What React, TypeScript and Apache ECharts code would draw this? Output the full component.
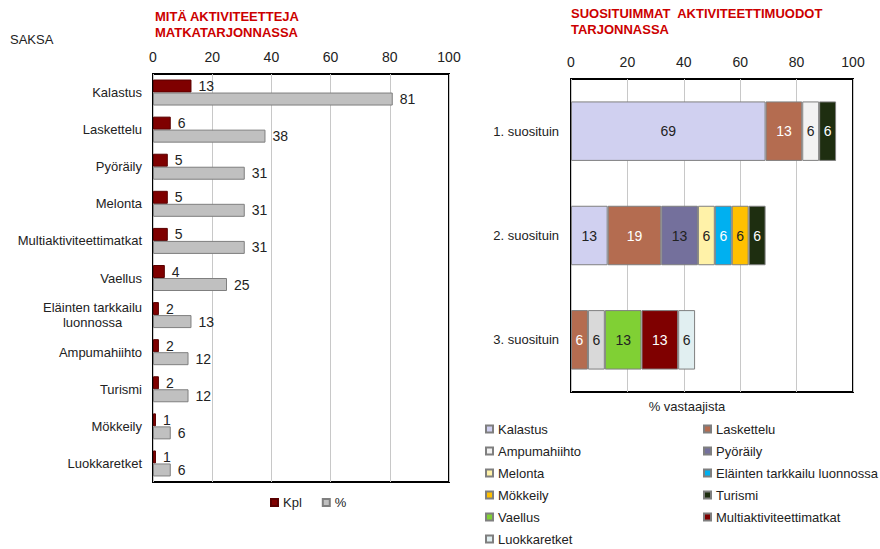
import React, { useEffect, useRef } from "react";
import * as echarts from "echarts";

const FONT = "'Liberation Sans', Arial, sans-serif";

// Left chart data
const leftCategories = [
  "Kalastus",
  "Laskettelu",
  "Pyöräily",
  "Melonta",
  "Multiaktiviteettimatkat",
  "Vaellus",
  "Eläinten tarkkailu\nluonnossa",
  "Ampumahiihto",
  "Turismi",
  "Mökkeily",
  "Luokkaretket",
];
const kplValues = [13, 6, 5, 5, 5, 4, 2, 2, 2, 1, 1];
const pctValues = [81, 38, 31, 31, 31, 25, 13, 12, 12, 6, 6];
const axisTicks = [0, 20, 40, 60, 80, 100];

// Right chart data
const rankCategories = ["1. suosituin", "2. suosituin", "3. suosituin"];
const activityNames = [
  "Kalastus",
  "Laskettelu",
  "Ampumahiihto",
  "Pyöräily",
  "Melonta",
  "Eläinten tarkkailu luonnossa",
  "Mökkeily",
  "Turismi",
  "Vaellus",
  "Multiaktiviteettimatkat",
  "Luokkaretket",
];
const kalastus = [69, 13, null];
const laskettelu = [13, 19, 6];
const ampumahiihto = [6, null, 6];
const pyoraily = [null, 13, null];
const melonta = [null, 6, null];
const elainten = [null, 6, null];
const mokkeily = [null, 6, null];
const turismi = [6, 6, null];
const vaellus = [null, null, 13];
const multi = [null, null, 13];
const luokkaretket = [null, null, 6];
const activityShares: (number | null)[][] = [
  kalastus,
  laskettelu,
  ampumahiihto,
  pyoraily,
  melonta,
  elainten,
  mokkeily,
  turismi,
  vaellus,
  multi,
  luokkaretket,
];
const activityColors = [
  "#d0d0f0",
  "#b46c50",
  "#f2f2f2",
  "#74709c",
  "#fff2a8",
  "#00b0f0",
  "#ffc000",
  "#1e2e10",
  "#80d034",
  "#7f0000",
  "#e1eff1",
];
const labelColors = [
  "#222",
  "#fff",
  "#222",
  "#222",
  "#222",
  "#fff",
  "#222",
  "#fff",
  "#222",
  "#fff",
  "#222",
];

export default function App() {
  const ref = useRef<HTMLDivElement>(null);
  useEffect(() => {
    if (!ref.current) return;
    const chart = echarts.init(ref.current, undefined, { renderer: "svg" });

    const rightSeries = activityNames.map((name, i) => ({
      name,
      type: "bar",
      stack: "rank",
      xAxisIndex: 1,
      yAxisIndex: 1,
      barCategoryGap: "43%",
      data: activityShares[i].map((v, r) =>
        name === "Ampumahiihto" && r === 2 && v != null
          ? { value: v, itemStyle: { color: "#d9d9d9" } }
          : v
      ),
      itemStyle: { color: activityColors[i], borderColor: "#7f7f7f", borderWidth: 1 },
      label: {
        show: true,
        position: "inside",
        color: labelColors[i],
        fontSize: 14,
        fontFamily: FONT,
        formatter: (p: any) => (p.value == null ? "" : String(p.value)),
      },
    }));

    const leftCol = activityNames.filter((_, i) => i % 2 === 0);
    const rightCol = activityNames.filter((_, i) => i % 2 === 1);

    const option: any = {
      animation: false,
      backgroundColor: "#fff",
      textStyle: { fontFamily: FONT },
      title: [
        {
          text: "MITÄ AKTIVITEETTEJA\nMATKATARJONNASSA",
          left: 150,
          top: 3,
          textStyle: { color: "#cc0000", fontSize: 13, fontWeight: "bold", lineHeight: 16, fontFamily: FONT },
        },
        {
          text: "SUOSITUIMMAT  AKTIVITEETTIMUODOT\nTARJONNASSA",
          left: 566,
          top: 0,
          textStyle: { color: "#cc0000", fontSize: 13, fontWeight: "bold", lineHeight: 16, fontFamily: FONT },
        },
        {
          text: "SAKSA",
          left: 5,
          top: 28,
          textStyle: { color: "#222", fontSize: 13, fontWeight: "normal", fontFamily: FONT },
        },
      ],
      grid: [
        {
          left: 153,
          right: 431,
          top: 74,
          bottom: 67,
          show: true,
          borderColor: "#000",
          borderWidth: 2,
          backgroundColor: "#fff",
        },
        {
          left: 571,
          right: 27,
          top: 79,
          bottom: 157,
          show: true,
          borderColor: "#000",
          borderWidth: 2,
          backgroundColor: "#fff",
        },
      ],
      xAxis: [
        {
          gridIndex: 0,
          type: "value",
          position: "top",
          min: axisTicks[0],
          max: axisTicks[axisTicks.length - 1],
          interval: 20,
          axisLine: { show: false },
          axisTick: { show: false },
          axisLabel: { color: "#222", fontSize: 14, margin: 10, fontFamily: FONT },
          splitLine: { show: true, lineStyle: { color: "#c8c8c8", width: 1 } },
        },
        {
          gridIndex: 1,
          type: "value",
          position: "top",
          min: axisTicks[0],
          max: axisTicks[axisTicks.length - 1],
          interval: 20,
          axisLine: { show: false },
          axisTick: { show: false },
          axisLabel: { color: "#222", fontSize: 14, margin: 10, fontFamily: FONT },
          splitLine: { show: true, lineStyle: { color: "#c8c8c8", width: 1 } },
        },
      ],
      yAxis: [
        {
          gridIndex: 0,
          type: "category",
          inverse: true,
          data: leftCategories,
          axisLine: { show: false },
          axisTick: { show: false },
          axisLabel: {
            color: "#222",
            fontSize: 13,
            margin: 11,
            lineHeight: 15,
            fontFamily: FONT,
            formatter: (v: string) =>
              v.includes("\n")
                ? v
                    .split("\n")
                    .map((l) => `{c|${l}}`)
                    .join("\n")
                : v,
            rich: {
              c: { align: "center", color: "#222", fontSize: 13, lineHeight: 15, fontFamily: FONT },
            },
          },
        },
        {
          gridIndex: 1,
          type: "category",
          inverse: true,
          data: rankCategories,
          axisLine: { show: false },
          axisTick: { show: false },
          axisLabel: { color: "#222", fontSize: 13, margin: 12, fontFamily: FONT },
        },
      ],
      legend: [
        {
          data: ["Kpl", "%"],
          left: 270,
          top: 496,
          orient: "horizontal",
          itemWidth: 7,
          itemHeight: 7,
          itemGap: 20,
          padding: 0,
          icon: "rect",
          textStyle: { color: "#222", fontSize: 13, fontFamily: FONT },
        },
        {
          data: leftCol,
          left: 485,
          top: 422,
          orient: "vertical",
          itemWidth: 7,
          itemHeight: 7,
          itemGap: 8,
          padding: 0,
          icon: "rect",
          textStyle: { color: "#222", fontSize: 13, lineHeight: 14, fontFamily: FONT },
        },
        {
          data: rightCol,
          left: 703,
          top: 422,
          orient: "vertical",
          itemWidth: 7,
          itemHeight: 7,
          itemGap: 8,
          padding: 0,
          icon: "rect",
          textStyle: { color: "#222", fontSize: 13, lineHeight: 14, fontFamily: FONT },
        },
      ],
      graphic: [
        {
          type: "text",
          x: 687,
          y: 406,
          style: {
            text: "% vastaajista",
            fill: "#222",
            fontSize: 13,
            fontFamily: FONT,
            textAlign: "center",
            textVerticalAlign: "middle",
          },
        },
      ],
      series: [
        {
          name: "Kpl",
          type: "bar",
          xAxisIndex: 0,
          yAxisIndex: 0,
          data: kplValues,
          barWidth: 13,
          barGap: "0%",
          itemStyle: { color: "#7f0000", borderColor: "#5a0000", borderWidth: 1 },
          label: { show: true, position: "right", distance: 7, color: "#222", fontSize: 14, fontFamily: FONT },
        },
        {
          name: "%",
          type: "bar",
          xAxisIndex: 0,
          yAxisIndex: 0,
          data: pctValues,
          barWidth: 13,
          barGap: "0%",
          itemStyle: { color: "#c0c0c0", borderColor: "#7f7f7f", borderWidth: 1 },
          label: { show: true, position: "right", distance: 7, color: "#222", fontSize: 14, fontFamily: FONT },
        },
        ...rightSeries,
      ],
    };
    chart.setOption(option);
    return () => chart.dispose();
  }, []);
  return (
    <div
      ref={ref}
      style={{ position: "fixed", left: 0, top: 0, width: 880, height: 549, background: "#fff" }}
    />
  );
}
